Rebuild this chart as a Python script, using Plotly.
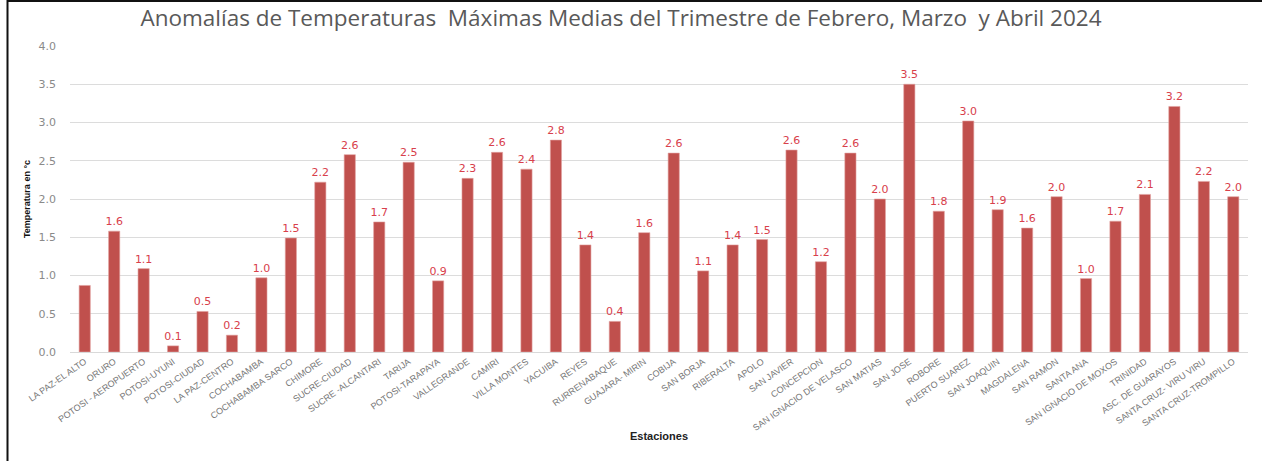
import plotly.graph_objects as go

estaciones = [
    "LA PAZ-EL ALTO", "ORURO", "POTOSI - AEROPUERTO", "POTOSI-UYUNI", "POTOSI-CIUDAD",
    "LA PAZ-CENTRO", "COCHABAMBA", "COCHABAMBA SARCO", "CHIMORE", "SUCRE-CIUDAD",
    "SUCRE -ALCANTARI", "TARIJA", "POTOSI-TARAPAYA", "VALLEGRANDE", "CAMIRI",
    "VILLA MONTES", "YACUIBA", "REYES", "RURRENABAQUE", "GUAJARA- MIRIN",
    "COBIJA", "SAN BORJA", "RIBERALTA", "APOLO", "SAN JAVIER",
    "CONCEPCION", "SAN IGNACIO DE VELASCO", "SAN MATIAS", "SAN JOSE", "ROBORE",
    "PUERTO SUAREZ", "SAN JOAQUIN", "MAGDALENA", "SAN RAMON", "SANTA ANA",
    "SAN IGNACIO DE MOXOS", "TRINIDAD", "ASC. DE GUARAYOS", "SANTA CRUZ- VIRU VIRU",
    "SANTA CRUZ-TROMPILLO",
]

anomalias = [
    0.87, 1.58, 1.09, 0.08, 0.53,
    0.22, 0.97, 1.49, 2.22, 2.58,
    1.70, 2.48, 0.93, 2.27, 2.61,
    2.39, 2.77, 1.40, 0.40, 1.56,
    2.60, 1.06, 1.40, 1.47, 2.64,
    1.18, 2.60, 2.00, 3.50, 1.84,
    3.02, 1.86, 1.62, 2.03, 0.96,
    1.71, 2.06, 3.21, 2.23, 2.03,
]

# stations whose value label is left off
sin_etiqueta = {"LA PAZ-EL ALTO"}

y_ticks = [0.0, 0.5, 1.0, 1.5, 2.0, 2.5, 3.0, 3.5, 4.0]

etiquetas = ["" if e in sin_etiqueta else f"{v:.1f}" for e, v in zip(estaciones, anomalias)]

fig = go.Figure(
    go.Bar(
        x=estaciones,
        y=anomalias,
        text=etiquetas,
        textposition="outside",
        constraintext="none",
        cliponaxis=False,
        textfont=dict(family="DejaVu Sans", size=11, color="#d8404b"),
        marker=dict(color="#C0504D", line=dict(color="#e3a3a1", width=0.6)),
        width=0.38,
    )
)

L, R, T, B = 70, 14, 46, 109
W, H = 1262, 461
plot_w = W - L - R
plot_h = H - T - B

def px_x(p):
    return (p - L) / plot_w

def px_y(p):
    return (H - B - p) / plot_h

fig.update_layout(
    width=W,
    height=H,
    margin=dict(l=L, r=R, t=T, b=B, autoexpand=False),
    paper_bgcolor="white",
    plot_bgcolor="white",
    showlegend=False,
    title=dict(
        text="Anomalías de Temperaturas  Máximas Medias del Trimestre de Febrero, Marzo  y Abril 2024",
        x=0.5 * (124 + 1118) / W,
        xanchor="center",
        y=1 - 18 / H,
        yanchor="middle",
        font=dict(family="Open Sans", size=22.5, color="#595959"),
    ),
    xaxis=dict(
        tickangle=-35,
        tickfont=dict(family="Liberation Sans Narrow, Liberation Sans", size=9, color="#777777"),
        showgrid=False,
        showline=True,
        linecolor="#d9d9d9",
        linewidth=1,
        ticks="",
        automargin=False,
        title=dict(
            text="<b>Estaciones</b>",
            font=dict(family="Liberation Sans", size=11, color="#222222"),
            standoff=0,
        ),
    ),
    yaxis=dict(
        range=[0, 4],
        tickvals=y_ticks,
        ticktext=[f"{t:.1f}" for t in y_ticks],
        tickfont=dict(family="DejaVu Sans", size=11, color="#8a8a8a"),
        showgrid=True,
        gridcolor="#dcdcdc",
        gridwidth=1,
        zeroline=False,
        ticks="",
        ticklabelstandoff=13,
        automargin=False,
        title=dict(
            text="<b>Temperatura en °c</b>",
            font=dict(family="Liberation Sans Narrow, Liberation Sans", size=9, color="#111111"),
            standoff=6,
        ),
    ),
    bargap=0.62,
    shapes=[
        # outer frame: left and top edges
        dict(type="line", xref="paper", yref="paper",
             x0=px_x(7.5), x1=px_x(7.5), y0=px_y(0), y1=px_y(H),
             line=dict(color="#111111", width=2)),
        dict(type="line", xref="paper", yref="paper",
             x0=px_x(7.5), x1=px_x(W), y0=px_y(1), y1=px_y(1),
             line=dict(color="#111111", width=2)),
    ],
)

fig.write_html("out.html")
